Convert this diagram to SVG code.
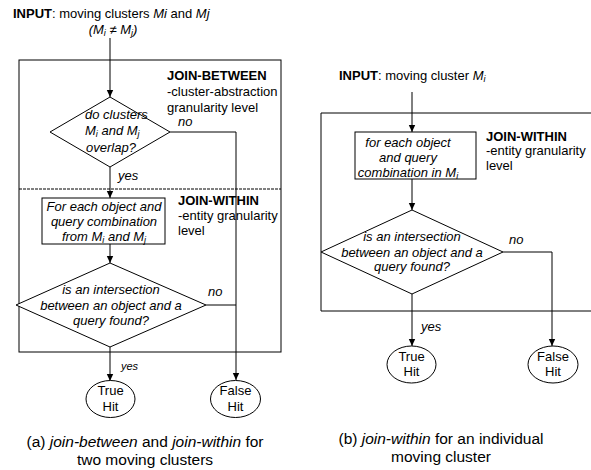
<svg xmlns="http://www.w3.org/2000/svg" width="591" height="470" viewBox="0 0 591 470">
<style>
text{font-family:"Liberation Sans",Arial,sans-serif;font-size:13px;fill:#000}
.i{font-style:italic}
.b{font-weight:bold}
.c{text-anchor:middle}
.s{font-size:9px}
.cap{font-size:15.5px}
.sm{font-size:11px}
.ln{fill:none;stroke:#000;stroke-width:1}
.shape{fill:#fff;stroke:#000;stroke-width:1}
</style>
<defs>
<marker id="ah" markerWidth="8" markerHeight="8" refX="7" refY="4" orient="auto" markerUnits="userSpaceOnUse">
<path d="M0,0.8 L7,4 L0,7.2 Z" fill="#000"/>
</marker>
</defs>
<rect width="591" height="470" fill="#fff"/>

<!-- Left diagram containers -->
<g id="left-box">
<rect class="ln" x="19" y="60" width="262" height="292"/>
<line x1="19" y1="189" x2="281" y2="189" stroke="#000" stroke-width="1" stroke-dasharray="3,1"/>
</g>
<g id="left-input">
<text x="13" y="18"><tspan class="b">INPUT</tspan>: moving clusters <tspan class="i">Mi</tspan> and <tspan class="i">Mj</tspan></text>
<text class="i c" x="113" y="34">(M<tspan class="s" dy="2">i</tspan><tspan dy="-2"> ≠ </tspan>M<tspan class="s" dy="2">j</tspan><tspan dy="-2">)</tspan></text>
</g>
<g id="join-between-label">
<text class="b" x="167" y="80">JOIN-BETWEEN</text>
<text x="167" y="96">-cluster-abstraction</text>
<text x="167" y="112">granularity level</text>
</g>
<g id="join-within-label-a">
<text class="b" x="178" y="205">JOIN-WITHIN</text>
<text x="178" y="220">-entity granularity</text>
<text x="178" y="235">level</text>
</g>

<g id="connectors">
<line class="ln" x1="110" y1="38" x2="110" y2="97" marker-end="url(#ah)"/>
<polyline class="ln" points="170,132 236,132 236,380" marker-end="url(#ah)"/>
<line class="ln" x1="110" y1="167" x2="110" y2="198" marker-end="url(#ah)"/>
<line class="ln" x1="110" y1="244" x2="110" y2="263" marker-end="url(#ah)"/>
<line class="ln" x1="206" y1="305" x2="236" y2="305"/>
<line class="ln" x1="110" y1="347" x2="110" y2="381" marker-end="url(#ah)"/>
<line class="ln" x1="412" y1="92" x2="412" y2="132" marker-end="url(#ah)"/>
<line class="ln" x1="412" y1="179" x2="412" y2="210" marker-end="url(#ah)"/>
<polyline class="ln" points="503,252 552,252 552,346" marker-end="url(#ah)"/>
<line class="ln" x1="412" y1="294" x2="412" y2="346" marker-end="url(#ah)"/>
<text class="i" x="178" y="126">no</text>
<text class="i" x="118" y="180">yes</text>
<text class="i" x="208" y="296">no</text>
<text class="i sm" x="121" y="370">yes</text>
<text class="i" x="509" y="244">no</text>
<text class="i" x="421" y="331">yes</text>
</g>

<g id="overlap-decision">
<polygon class="shape" points="110,97 170,132 110,167 50,132"/>
<text class="i" x="85" y="119">do clusters</text>
<text class="i" x="85" y="135">M<tspan class="s" dy="2">i</tspan><tspan dy="-2"> and M</tspan><tspan class="s" dy="2">j</tspan></text>
<text class="i" x="86" y="152">overlap?</text>
</g>
<g id="foreach-a">
<rect class="shape" x="42" y="198" width="123" height="46"/>
<text class="i c" x="104" y="211">For each object and</text>
<text class="i c" x="104" y="226">query combination</text>
<text class="i c" x="104" y="241">from M<tspan class="s" dy="2">i</tspan><tspan dy="-2"> and M</tspan><tspan class="s" dy="2">j</tspan></text>
</g>
<g id="intersect-a">
<polygon class="shape" points="110,263 206,305 110,347 16,305"/>
<text class="i c" x="111" y="294">is an intersection</text>
<text class="i c" x="111" y="310">between an object and a</text>
<text class="i c" x="111" y="325">query found?</text>
</g>
<g id="true-hit-a">
<ellipse class="shape" cx="110.5" cy="399" rx="24.5" ry="18.5"/>
<text class="c" x="110.5" y="395">True</text>
<text class="c" x="110.5" y="411">Hit</text>
</g>
<g id="false-hit-a">
<ellipse class="shape" cx="235.5" cy="399" rx="25" ry="18.5"/>
<text class="c" x="235.5" y="395">False</text>
<text class="c" x="235.5" y="411">Hit</text>
</g>
<g id="caption-a">
<text class="c cap" x="145" y="447">(a) <tspan class="i">join-between</tspan> and <tspan class="i">join-within</tspan> for</text>
<text class="c cap" x="145" y="465">two moving clusters</text>
</g>

<!-- Right diagram -->
<g id="right-box">
<path class="ln" d="M592,113 H321 V311 H592"/>
</g>
<g id="right-input">
<text x="339" y="80"><tspan class="b">INPUT</tspan>: moving cluster <tspan class="i">M</tspan><tspan class="i s" dy="2">i</tspan></text>
</g>
<g id="join-within-label-b">
<text class="b" x="486" y="141">JOIN-WITHIN</text>
<text x="486" y="155">-entity granularity</text>
<text x="486" y="170">level</text>
</g>
<g id="foreach-b">
<rect class="shape" x="355" y="132" width="121" height="47"/>
<text class="i c" x="408" y="147">for each object</text>
<text class="i c" x="408" y="162">and query</text>
<text class="i c" x="408" y="177">combination in M<tspan class="s" dy="2">i</tspan></text>
</g>
<g id="intersect-b">
<polygon class="shape" points="412,210 503,252 412,294 321,252"/>
<text class="i c" x="412" y="241">is an intersection</text>
<text class="i c" x="412" y="257">between an object and a</text>
<text class="i c" x="412" y="271">query found?</text>
</g>
<g id="true-hit-b">
<ellipse class="shape" cx="411.5" cy="364.5" rx="24.5" ry="18.5"/>
<text class="c" x="411.5" y="361">True</text>
<text class="c" x="411.5" y="376">Hit</text>
</g>
<g id="false-hit-b">
<ellipse class="shape" cx="553" cy="364.5" rx="25" ry="18.5"/>
<text class="c" x="553" y="361">False</text>
<text class="c" x="553" y="376">Hit</text>
</g>
<g id="caption-b">
<text class="c cap" x="441" y="444">(b) <tspan class="i">join-within</tspan> for an individual</text>
<text class="c cap" x="441" y="462">moving cluster</text>
</g>
</svg>
